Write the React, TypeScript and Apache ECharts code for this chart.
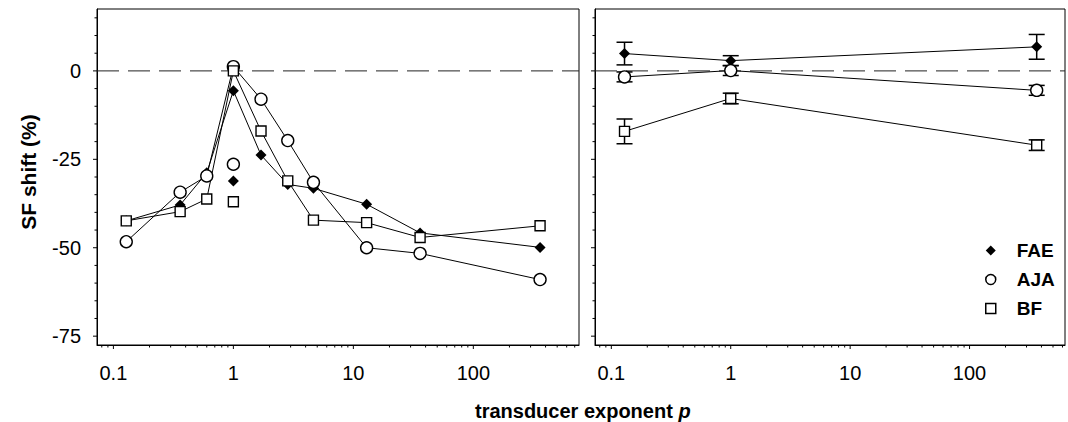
import React, { useEffect, useRef } from 'react';
import * as echarts from 'echarts';

// ---- data ----
const pLeft = [0.128, 0.36, 0.6, 1, 1.7, 2.84, 4.65, 12.9, 36, 360];
const faeLeft = [-42.4, -37.9, -28.8, -5.6, -23.8, -32.1, -33.2, -37.7, -45.8, -49.9];
const ajaLeft = [-48.3, -34.3, -29.7, 1.2, -8.0, -19.7, -31.5, -50.0, -51.6, -59.0];
const bfLeft = [-42.4, -39.8, -36.2, 0.0, -17.0, -31.1, -42.2, -42.9, -47.1, -43.8];

const pIsolated = [1];
const faeIsolated = [-31.1];
const ajaIsolated = [-26.4];
const bfIsolated = [-37.0];

const pRight = [0.129, 1, 365];
const faeRight = [4.9, 2.9, 6.8];
const faeRightErr = [3.2, 1.4, 3.5];
const ajaRight = [-1.7, 0.1, -5.5];
const ajaRightErr = [1.4, 1.4, 1.4];
const bfRight = [-17.1, -7.8, -21.0];
const bfRightErr = [3.5, 1.5, 1.5];

const xMajorTicks = [0.1, 1, 10, 100];
const xTickLabels = ['0.1', '1', '10', '100'];
const xMinorTicksLeft = [0.08, 0.09, 0.2, 0.3, 0.4, 0.5, 0.6, 0.7, 0.8, 0.9, 2, 3, 4, 5, 6, 7, 8, 9, 20, 30, 40, 50, 60, 70, 80, 90, 200, 300, 400, 500, 600, 700];
const xMinorTicksRight = [0.08, 0.09, 0.2, 0.3, 0.4, 0.5, 0.6, 0.7, 0.8, 0.9, 2, 3, 4, 5, 6, 7, 8, 9, 20, 30, 40, 50, 60, 70, 80, 90, 200, 300, 400, 500, 600];
const yMajorTicks = [-75, -50, -25, 0];
const yTickLabels = ['-75', '-50', '-25', '0'];
const yMinorTicks = [-70, -65, -60, -55, -45, -40, -35, -30, -20, -15, -10, -5, 5, 10, 15];

const FONT = '"Liberation Sans", Arial, Helvetica, sans-serif';
const BLACK = '#000';

function tickData(xMinor: number[]) {
  const d: number[][] = [];
  xMajorTicks.forEach((v) => d.push([v, 0, 0]));
  xMinor.forEach((v) => d.push([v, 0, 1]));
  yMajorTicks.forEach((v) => d.push([1, v, 2]));
  yMinorTicks.forEach((v) => d.push([1, v, 3]));
  return d;
}

function tickSeries(gridIndex: number, xMinor: number[]) {
  return {
    type: 'custom',
    xAxisIndex: gridIndex,
    yAxisIndex: gridIndex,
    silent: true,
    clip: false,
    z: 1,
    encode: { x: 0, y: 1 },
    data: tickData(xMinor),
    renderItem: (params: any, api: any) => {
      const cs = params.coordSys;
      const kind = api.value(2);
      const pt = api.coord([api.value(0), api.value(1)]);
      if (kind < 2) {
        const len = kind === 0 ? 4 : 2.5;
        const yb = cs.y + cs.height;
        return {
          type: 'line',
          shape: { x1: pt[0], y1: yb, x2: pt[0], y2: yb + len },
          style: { stroke: BLACK, lineWidth: 1 },
        };
      }
      const len = kind === 2 ? 4 : 2.5;
      return {
        type: 'line',
        shape: { x1: cs.x - len, y1: pt[1], x2: cs.x, y2: pt[1] },
        style: { stroke: BLACK, lineWidth: 1 },
      };
    },
  };
}

function zeroSeries(gridIndex: number) {
  return {
    type: 'custom',
    xAxisIndex: gridIndex,
    yAxisIndex: gridIndex,
    silent: true,
    z: 2,
    encode: { x: 0, y: 1 },
    data: [[1, 0]],
    renderItem: (params: any, api: any) => {
      const cs = params.coordSys;
      const pt = api.coord([api.value(0), api.value(1)]);
      return {
        type: 'line',
        shape: { x1: cs.x, y1: pt[1], x2: cs.x + cs.width, y2: pt[1] },
        style: { stroke: '#222', lineWidth: 1, lineDash: [22, 9] },
      };
    },
  };
}

function errSeries(p: number[], v: number[], e: number[]) {
  return {
    type: 'custom',
    xAxisIndex: 1,
    yAxisIndex: 1,
    silent: true,
    z: 2,
    encode: { x: 0, y: [1, 2] },
    data: p.map((x, i) => [x, v[i] - e[i], v[i] + e[i]]),
    renderItem: (params: any, api: any) => {
      const x = api.value(0);
      const p1 = api.coord([x, api.value(1)]);
      const p2 = api.coord([x, api.value(2)]);
      const hw = 8;
      const st = { stroke: BLACK, lineWidth: 1.5 };
      return {
        type: 'group',
        children: [
          { type: 'line', shape: { x1: p1[0], y1: p1[1], x2: p2[0], y2: p2[1] }, style: st },
          { type: 'line', shape: { x1: p1[0] - hw, y1: p1[1], x2: p1[0] + hw, y2: p1[1] }, style: st },
          { type: 'line', shape: { x1: p2[0] - hw, y1: p2[1], x2: p2[0] + hw, y2: p2[1] }, style: st },
        ],
      };
    },
  };
}

const markerStyles: Record<string, any> = {
  FAE: { symbol: 'diamond', symbolSize: 11, itemStyle: { color: BLACK, borderWidth: 0, opacity: 1 } },
  AJA: { symbol: 'circle', symbolSize: 12, itemStyle: { color: '#fff', borderColor: BLACK, borderWidth: 1.4, opacity: 1 } },
  BF: { symbol: 'rect', symbolSize: 10, itemStyle: { color: '#fff', borderColor: BLACK, borderWidth: 1.4, opacity: 1 } },
};

function lineSeries(name: string, grid: number, p: number[], v: number[]) {
  const m = markerStyles[name];
  return {
    type: 'line',
    name,
    xAxisIndex: grid,
    yAxisIndex: grid,
    data: p.map((x, i) => [x, v[i]]),
    symbol: m.symbol,
    symbolSize: m.symbolSize,
    itemStyle: m.itemStyle,
    lineStyle: { color: BLACK, width: 1 },
    showAllSymbol: true,
    z: 3,
  };
}

function scatterSeries(name: string, p: number[], v: number[]) {
  const m = markerStyles[name];
  return {
    type: 'scatter',
    name: name + ' (p=1)',
    xAxisIndex: 0,
    yAxisIndex: 0,
    data: p.map((x, i) => [x, v[i]]),
    symbol: m.symbol,
    symbolSize: m.symbolSize,
    itemStyle: m.itemStyle,
    z: 3,
  };
}

function xAxisFor(grid: number, max: number) {
  return {
    type: 'log',
    gridIndex: grid,
    logBase: 10,
    min: 0.073,
    max,
    axisLine: { show: true, onZero: false, lineStyle: { color: BLACK, width: 1 } },
    axisTick: { show: false },
    splitLine: { show: false },
    axisLabel: {
      margin: 18,
      fontSize: 20,
      color: BLACK,
      fontFamily: FONT,
      formatter: (v: number) => {
        const i = xMajorTicks.findIndex((t) => Math.abs(Math.log10(v) - Math.log10(t)) < 1e-6);
        return i >= 0 ? xTickLabels[i] : '';
      },
    },
  };
}

function yAxisFor(grid: number, showLabels: boolean) {
  return {
    type: 'value',
    gridIndex: grid,
    min: -77.5,
    max: 17.5,
    interval: 2.5,
    axisLine: { show: true, onZero: false, lineStyle: { color: BLACK, width: 1 } },
    axisTick: { show: false },
    splitLine: { show: false },
    axisLabel: {
      show: showLabels,
      margin: 16,
      fontSize: 20,
      color: BLACK,
      fontFamily: FONT,
      formatter: (v: number) => {
        const i = yMajorTicks.findIndex((t) => Math.abs(v - t) < 1e-6);
        return i >= 0 ? yTickLabels[i] : '';
      },
    },
  };
}

export default function App() {
  const ref = useRef<HTMLDivElement>(null);
  useEffect(() => {
    if (!ref.current) return;
    const chart = echarts.init(ref.current, undefined, { renderer: 'svg' });
    chart.setOption({
      animation: false,
      backgroundColor: '#fff',
      textStyle: { fontFamily: FONT },
      grid: [
        { left: 97, top: 9, width: 482, height: 336, show: true, borderColor: BLACK, borderWidth: 1, backgroundColor: 'transparent' },
        { left: 595, top: 9, width: 472, height: 336, show: true, borderColor: BLACK, borderWidth: 1, backgroundColor: 'transparent' },
      ],
      xAxis: [xAxisFor(0, 760), xAxisFor(1, 630)],
      yAxis: [yAxisFor(0, true), yAxisFor(1, false)],
      legend: {
        orient: 'vertical',
        left: 980,
        top: 236,
        itemWidth: 10,
        itemHeight: 10,
        itemGap: 10,
        selectedMode: false,
        textStyle: { fontSize: 19, fontWeight: 'bold', color: BLACK, fontFamily: FONT, padding: [0, 0, 0, 16] },
        data: [
          { name: 'FAE', icon: 'diamond', itemStyle: { color: BLACK, borderWidth: 0 } },
          { name: 'AJA', icon: 'circle', itemStyle: { color: '#fff', borderColor: BLACK, borderWidth: 1.5 } },
          { name: 'BF', icon: 'rect', itemStyle: { color: '#fff', borderColor: BLACK, borderWidth: 1.5 } },
        ],
      },
      graphic: [
        {
          type: 'text',
          x: 28,
          y: 172,
          rotation: Math.PI / 2,
          style: {
            text: 'SF shift (%)',
            font: `bold 21px ${FONT}`,
            fill: BLACK,
            align: 'center',
            verticalAlign: 'middle',
          },
        },
        {
          type: 'text',
          x: 475,
          y: 411,
          style: {
            text: '{a|transducer exponent }{b|p}',
            verticalAlign: 'middle',
            align: 'left',
            fill: BLACK,
            rich: {
              a: { fontSize: 20, fontWeight: 'bold', fontFamily: FONT, fill: BLACK },
              b: { fontSize: 20, fontWeight: 'bold', fontStyle: 'italic', fontFamily: FONT, fill: BLACK },
            },
          },
        },
      ],
      series: [
        tickSeries(0, xMinorTicksLeft),
        tickSeries(1, xMinorTicksRight),
        zeroSeries(0),
        zeroSeries(1),
        lineSeries('FAE', 0, pLeft, faeLeft),
        lineSeries('AJA', 0, pLeft, ajaLeft),
        lineSeries('BF', 0, pLeft, bfLeft),
        scatterSeries('FAE', pIsolated, faeIsolated),
        scatterSeries('AJA', pIsolated, ajaIsolated),
        scatterSeries('BF', pIsolated, bfIsolated),
        errSeries(pRight, faeRight, faeRightErr),
        errSeries(pRight, ajaRight, ajaRightErr),
        errSeries(pRight, bfRight, bfRightErr),
        lineSeries('FAE', 1, pRight, faeRight),
        lineSeries('AJA', 1, pRight, ajaRight),
        lineSeries('BF', 1, pRight, bfRight),
      ],
    });
    return () => chart.dispose();
  }, []);
  return <div ref={ref} style={{ position: 'fixed', left: 0, top: 0, width: 1068, height: 422 }} />;
}
